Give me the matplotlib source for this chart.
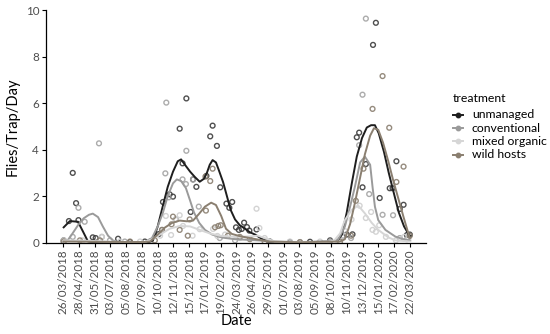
#! /usr/bin/env python3
# -*- coding: utf-8 -*-

## Flies per trap per day, four treatments, 2018-2020
import pandas as pd
import matplotlib
matplotlib.use('Agg')
import matplotlib.pyplot as plt
from matplotlib.lines import Line2D

plt.rcParams['font.family'] = ['Lato', 'DejaVu Sans']

## first sampling date; all "dia" values are days since this date
inicio = pd.Timestamp('2018-03-26')

tick_labels = ['26/03/2018', '28/04/2018', '31/05/2018', '03/07/2018', '05/08/2018',
               '07/09/2018', '10/10/2018', '12/11/2018', '15/12/2018', '17/01/2019',
               '19/02/2019', '24/03/2019', '26/04/2019', '29/05/2019', '01/07/2019',
               '03/08/2019', '05/09/2019', '08/10/2019', '10/11/2019', '13/12/2019',
               '15/01/2020', '17/02/2020', '22/03/2020']

tratamentos = ['unmanaged', 'conventional', 'mixed organic', 'wild hosts']

## observed points
unmanaged_dia = [1, 12, 20, 27, 32, 62, 68, 115, 140, 171, 200, 209, 223, 230, 244,
                 250, 258, 267, 272, 279, 300, 308, 313, 322, 329, 342, 348, 354, 362, 368,
                 374, 379, 385, 390, 405, 433, 475, 517, 559, 594, 606, 615, 620, 627, 634,
                 649, 655, 663, 684, 690, 698, 705, 713, 720, 726]
unmanaged_val = [0.1, 0.93, 3.0, 1.7, 0.97, 0.23, 0.2, 0.17, 0.03, 0.05, 0.37, 1.75, 2.08, 1.98, 4.9,
                 3.41, 6.2, 1.32, 2.72, 2.4, 2.87, 4.57, 5.03, 4.16, 2.38, 1.68, 1.5, 1.75, 0.66, 0.55,
                 0.59, 0.86, 0.67, 0.52, 0.57, 0.05, 0.03, 0.04, 0.1, 0.35, 0.36, 4.53, 4.73, 2.38, 3.38,
                 8.5, 9.45, 1.92, 2.34, 2.34, 3.5, 1.45, 1.63, 0.33, 0.35]

conventional_dia = [1, 20, 32, 45, 75, 81, 98, 129, 182, 207, 214, 216, 221, 236, 250,
                    257, 258, 272, 284, 328, 360, 433, 496, 559, 586, 603, 620, 627, 634, 641,
                    669, 691, 705, 720]
conventional_val = [0.05, 0.25, 1.5, 0.9, 4.27, 0.25, 0.1, 0.05, 0.05, 0.55, 2.98, 6.02, 1.95, 1.0, 2.72,
                    2.52, 3.95, 2.72, 1.55, 0.2, 0.1, 0.03, 0.03, 0.05, 0.3, 0.2, 4.19, 6.36, 9.63, 2.09,
                    1.2, 1.18, 0.2, 0.15]

mixed_dia = [1, 41, 81, 119, 161, 203, 215, 226, 235, 244, 251, 271, 286, 314, 323,
             339, 370, 405, 411, 422, 475, 538, 575, 590, 604, 621, 634, 645, 648, 655,
             662, 676, 697, 714]
mixed_val = [0.1, 0.1, 0.25, 0.05, 0.05, 0.3, 1.15, 0.33, 1.0, 1.18, 0.72, 0.3, 0.58, 0.59, 0.29,
             0.35, 0.2, 1.46, 0.63, 0.2, 0.05, 0.05, 0.1, 0.5, 1.0, 1.59, 1.06, 1.32, 0.55, 0.47,
             0.75, 0.25, 0.1, 0.25]

wild_dia = [1, 35, 77, 140, 192, 207, 227, 230, 244, 261, 265, 298, 299, 308, 313,
            318, 325, 330, 345, 370, 391, 422, 496, 580, 603, 613, 629, 648, 669, 683,
            698, 713, 726]
wild_val = [0.05, 0.1, 0.1, 0.05, 0.1, 0.55, 0.79, 1.12, 0.55, 0.3, 1.0, 2.84, 1.38, 2.65, 3.18,
            0.66, 0.72, 0.75, 0.3, 0.25, 0.15, 0.05, 0.02, 0.05, 0.3, 1.8, 3.18, 5.75, 7.16, 4.94,
            2.61, 3.27, 0.3]

## smoothed trend lines
unmanaged_curva_dia = [1, 14, 31, 41, 52, 66, 120, 177, 188, 198, 209, 219, 230, 240, 247,
                       255, 266, 276, 286, 295, 301, 307, 313, 320, 326, 335, 343, 351, 360, 370,
                       381, 391, 402, 412, 422, 433, 496, 559, 575, 584, 594, 605, 615, 626, 636,
                       645, 653, 661, 672, 682, 693, 703, 714, 724, 727]
unmanaged_curva_val = [0.66, 0.93, 0.9, 0.5, 0.05, 0.0, 0.0, 0.0, 0.1, 0.7, 1.6, 2.4, 3.05, 3.5, 3.58,
                       3.35, 3.05, 2.82, 2.62, 2.75, 3.0, 3.35, 3.55, 3.45, 3.12, 2.6, 2.0, 1.4, 1.0, 0.75,
                       0.6, 0.45, 0.35, 0.22, 0.1, 0.03, 0.02, 0.05, 0.1, 0.35, 1.3, 2.6, 3.7, 4.5, 4.95,
                       5.05, 5.05, 4.7, 3.9, 3.0, 2.1, 1.3, 0.7, 0.35, 0.3]

conventional_curva_dia = [1, 10, 18, 31, 43, 54, 62, 73, 83, 94, 104, 115, 171, 186, 198,
                          209, 219, 230, 238, 247, 257, 266, 274, 285, 297, 312, 333, 360, 391, 422,
                          443, 496, 559, 575, 590, 601, 611, 622, 632, 643, 648, 653, 660, 675, 696,
                          713, 727]
conventional_curva_val = [0.05, 0.12, 0.35, 0.75, 1.05, 1.2, 1.25, 1.1, 0.7, 0.3, 0.1, 0.03, 0.03, 0.2, 0.7,
                          1.3, 2.0, 2.55, 2.72, 2.65, 2.35, 1.8, 1.3, 0.85, 0.55, 0.35, 0.22, 0.15, 0.12, 0.08,
                          0.04, 0.03, 0.05, 0.1, 0.69, 1.55, 2.4, 3.45, 3.7, 3.35, 2.4, 1.55, 0.97, 0.55, 0.26,
                          0.15, 0.1]

mixed_curva_dia = [1, 56, 119, 171, 186, 203, 223, 244, 266, 286, 307, 328, 360, 391, 408,
                   422, 443, 475, 538, 559, 569, 580, 590, 604, 618, 632, 646, 660, 681, 696,
                   727]
mixed_curva_val = [0.1, 0.08, 0.03, 0.03, 0.15, 0.35, 0.6, 0.72, 0.7, 0.55, 0.4, 0.3, 0.25, 0.27, 0.3,
                   0.2, 0.06, 0.03, 0.03, 0.05, 0.12, 0.4, 0.97, 1.4, 1.6, 1.26, 0.86, 0.55, 0.23, 0.1,
                   0.05]

wild_curva_dia = [1, 119, 171, 182, 198, 213, 228, 244, 259, 272, 285, 297, 310, 320, 331,
                  341, 353, 370, 391, 412, 429, 496, 580, 590, 601, 611, 622, 632, 643, 651,
                  660, 670, 681, 691, 702, 713, 723, 727]
wild_curva_val = [0.05, 0.03, 0.03, 0.05, 0.35, 0.65, 0.85, 0.95, 0.92, 0.95, 1.25, 1.55, 1.72, 1.62, 1.15,
                  0.6, 0.38, 0.28, 0.2, 0.12, 0.05, 0.02, 0.05, 0.15, 0.8, 1.7, 2.8, 3.8, 4.6, 4.92,
                  4.85, 4.3, 3.5, 2.7, 1.9, 1.1, 0.4, 0.2]

cores = ['#1e1e1e', '#9a9a9a', '#d6d6d6', '#8a7f70']
cores_pontos = ['#3c3c3c', '#a3a3a3', '#cfcfcf', '#8a7f70']

pontos = [(unmanaged_dia, unmanaged_val), (conventional_dia, conventional_val),
          (mixed_dia, mixed_val), (wild_dia, wild_val)]
curvas = [(unmanaged_curva_dia, unmanaged_curva_val), (conventional_curva_dia, conventional_curva_val),
          (mixed_curva_dia, mixed_curva_val), (wild_curva_dia, wild_curva_val)]


def para_data(dias):
    return inicio + pd.to_timedelta(dias, unit='D')


fig = plt.figure(figsize=(5.5, 3.34), dpi=100)
ax = fig.add_axes([46 / 550, 91.3 / 334, 380 / 550, 232.7 / 334])

## points first, then the smooth lines on top
for (d, v), cor in zip(pontos, cores_pontos):
    ax.scatter(para_data(d), v, s=12, facecolors='none', edgecolors=cor,
               linewidths=1.0, alpha=0.9, zorder=2)
for (d, v), cor in zip(curvas, cores):
    ax.plot(para_data(d), v, color=cor, lw=1.4, zorder=3)

## axes
ax.set_ylim(0, 10)
ax.set_xlim(inicio - pd.Timedelta(days=36), inicio + pd.Timedelta(days=760))
ax.set_yticks([0, 2, 4, 6, 8, 10])
ax.set_xticks(pd.to_datetime(tick_labels, format='%d/%m/%Y'))
ax.set_xticklabels(tick_labels, rotation=90)
ax.tick_params(axis='both', length=3, width=0.8, color='black',
               labelcolor='#4d4d4d', labelsize=8.4, pad=2)
for lado in ['top', 'right']:
    ax.spines[lado].set_visible(False)
for lado in ['left', 'bottom']:
    ax.spines[lado].set_linewidth(0.9)
ax.set_xlabel('Date', fontsize=10.5, labelpad=0)
ax.set_ylabel('Flies/Trap/Day', fontsize=10.5, labelpad=4)

## legend placed by hand: title, then line + point keys
px = lambda x, y: (x / 550, 1 - y / 334)
fig.text(*px(453, 98), 'treatment', fontsize=8.8, va='center', ha='left')
for i, (nome, cor) in enumerate(zip(tratamentos, cores)):
    y = 115 + i * 13.2
    fig.add_artist(Line2D([453 / 550, 463 / 550], [1 - y / 334] * 2, color=cor, lw=1.4,
                          transform=fig.transFigure))
    fig.add_artist(Line2D([458 / 550], [1 - y / 334], color=cor, marker='o', markersize=3.2,
                          transform=fig.transFigure))
    fig.text(*px(472, y), nome, fontsize=8.8, va='center', ha='left')

fig.savefig('out.png', dpi=100)
